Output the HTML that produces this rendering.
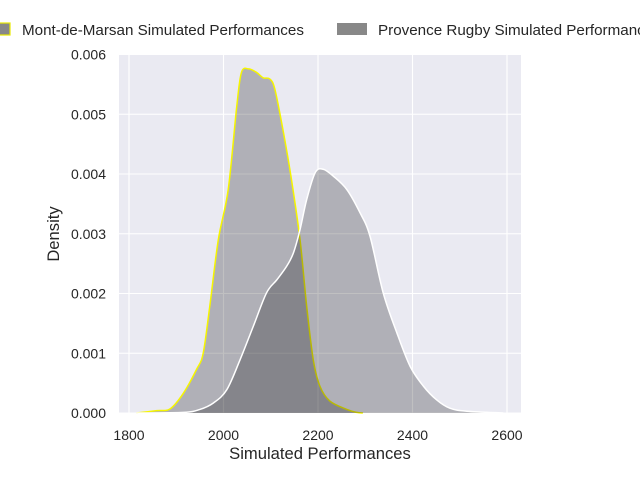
<!DOCTYPE html>
<html><head><meta charset="utf-8"><style>
body{margin:0;background:#fff;}
svg{display:block;font-family:"Liberation Sans",Arial,sans-serif;}
</style></head><body>
<svg id="chart" width="640" height="480" viewBox="0 0 640 480">
<rect x="119" y="54" width="402" height="359" fill="#eaeaf2"/>
<g id="grid"></g>
<g id="areas"></g>
<g id="ticks"></g>
<text x="320" y="459" text-anchor="middle" font-size="16.6" fill="#262626">Simulated Performances</text>
<text transform="translate(59,234) rotate(-90)" text-anchor="middle" font-size="16.6" fill="#262626">Density</text>
<g>
<g>
<rect x="-6" y="23" width="16" height="12" fill="#888" stroke="#e8e800" stroke-width="1.2"/>
<text x="22" y="35" font-size="15.2" fill="#262626">Mont-de-Marsan Simulated Performances</text></g>
<g>
<rect x="337" y="23" width="30" height="12" fill="#888"/>
<text x="378" y="35" font-size="15.2" fill="#262626">Provence Rugby Simulated Performances</text></g>
</g>
</svg>
<script>
const xTicks=[1800,2000,2200,2400,2600];
const yTicks=[0,0.001,0.002,0.003,0.004,0.005,0.006];
const yTickLabels=["0.000","0.001","0.002","0.003","0.004","0.005","0.006"];
const mdmX=[1816,1859,1887,1915,1943,1957,1971,1989,2010,2028,2038,2053,2070,2084,2098,2109,2127,2144,2162,2176,2190,2204,2225,2261,2282,2295];
const mdmY=[0,0.00004,0.00007,0.00033,0.00073,0.001,0.00179,0.0029,0.00374,0.00513,0.0057,0.00576,0.0057,0.00561,0.00559,0.00541,0.00469,0.0039,0.0029,0.00179,0.00089,0.00045,0.0002,0.00006,0.00001,0];
const provX=[1816,1915,1950,1979,2007,2035,2063,2091,2113,2134,2148,2162,2176,2194,2211,2233,2261,2289,2310,2338,2367,2395,2423,2451,2479,2515,2592];
const provY=[0,0.00001,0.00006,0.00017,0.00039,0.00089,0.00145,0.00201,0.00223,0.00246,0.00268,0.00307,0.00357,0.00402,0.00408,0.00396,0.00374,0.00335,0.00296,0.00201,0.00134,0.00078,0.00045,0.00022,0.00008,0.00003,0];
const NS="http://www.w3.org/2000/svg";
const xs=v=>129+(v-1800)*0.4725;
const ys=v=>413-v*59.75/0.001;
const grid=document.getElementById('grid'),ticks=document.getElementById('ticks'),areas=document.getElementById('areas');
function mk(tag,attrs,parent){const e=document.createElementNS(NS,tag);for(const k in attrs)e.setAttribute(k,attrs[k]);parent.appendChild(e);return e;}
xTicks.forEach(t=>{
 const l=mk('line',{x1:xs(t),x2:xs(t),y1:54,y2:413,stroke:'#fff','stroke-width':1.1},grid);
 
 
 const tx=mk('text',{x:xs(t),y:440,'text-anchor':'middle','font-size':14,fill:'#262626'},ticks);
 
 
 tx.textContent=t;
});
yTicks.forEach((t,i)=>{
 const l=mk('line',{x1:119,x2:521,y1:ys(t),y2:ys(t),stroke:'#fff','stroke-width':1.1},grid);
 
 
 const tx=mk('text',{x:106,y:ys(t)+5,'text-anchor':'end','font-size':14,fill:'#262626'},ticks);
 
 
 tx.textContent=yTickLabels[i];
});
function smooth(X,Y){let p=[];for(let i=0;i<X.length;i++)p.push([xs(X[i]),ys(Y[i])]);
 let d='M'+p[0][0]+','+p[0][1];
 for(let i=0;i<p.length-1;i++){const p0=p[Math.max(i-1,0)],p1=p[i],p2=p[i+1],p3=p[Math.min(i+2,p.length-1)];
  const c1=[p1[0]+(p2[0]-p0[0])/6,p1[1]+(p2[1]-p0[1])/6],c2=[p2[0]-(p3[0]-p1[0])/6,p2[1]-(p3[1]-p1[1])/6];
  d+=' C'+c1[0]+','+c1[1]+' '+c2[0]+','+c2[1]+' '+p2[0]+','+p2[1];}
 return d;}
function area(X,Y,stroke,name){
 const line=smooth(X,Y);
 const f=mk('path',{d:line+' L'+xs(X[X.length-1])+','+ys(0)+' L'+xs(X[0])+','+ys(0)+' Z',fill:'#0b0b10','fill-opacity':0.26,stroke:'none'},areas);
 
 
 const s=mk('path',{d:line,fill:'none',stroke:stroke,'stroke-width':1.5},areas);
 
 
}
area(mdmX,mdmY,'#f5f500','mont-de-marsan');
area(provX,provY,'#ffffff','provence-rugby');
</script>
</body></html>
